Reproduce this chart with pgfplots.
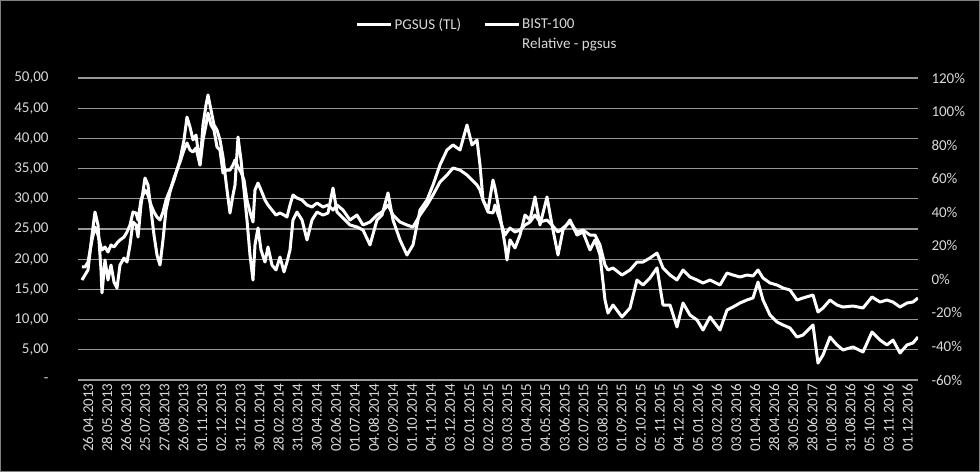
\documentclass[border=0pt]{standalone}
\usepackage{pgfplots}
\pgfplotsset{compat=1.18}
\usepackage{pgfplotstable}
\usepackage{fontspec}
\setmainfont{Carlito}
\definecolor{txt}{HTML}{D9D9D9}
\definecolor{grd}{HTML}{979797}
\definecolor{frame}{HTML}{808080}

% x: position along the date axis (one label every 19.06 units)
% p: PGSUS (TL), left axis; r: relative - pgsus (%), right axis
\pgfplotstableread{
x p r
0 18.71 -0.4
3 18.71 2.6
6 19.53 5.6
10 23.18 26.4
13 25.33 40.1
16 24.00 32.4
19 22.02 5.6
20 21.52 -8.1
23 22.02 11.5
26 21.19 -0.4
29 22.35 8.5
32 22.02 -1.6
35 22.68 -5.2
38 23.18 8.5
42 23.67 12.7
45 24.50 10.3
48 25.66 20.5
51 27.81 34.2
54 27.65 32.4
56 26.49 25.2
59 29.80 44.3
63 31.45 60.4
66 30.63 56.2
69 28.97 41.3
72 27.81 26.4
75 26.98 14.5
78 26.49 8.5
81 27.81 23.5
84 29.80 41.3
88 31.45 52.1
92 33.11 60.4
95 34.76 65.2
98 36.09 71.1
102 38.08 83.1
105 39.24 96.7
108 38.08 90.8
111 37.75 83.1
114 38.41 86.0
118 35.59 68.2
121 39.73 92.0
124 42.22 103.9
126 44.20 109.9
129 42.22 100.9
132 41.39 92.0
135 38.57 89.0
138 38.08 83.1
141 34.27 72.9
145 34.76 53.3
148 34.76 39.5
151 35.59 50.3
153 36.42 56.2
156 35.26 84.8
159 34.43 71.1
162 33.11 53.3
165 29.80 35.4
168 27.81 14.5
171 26.16 -0.4
173 31.45 20.5
176 32.61 30.6
179 31.45 17.5
183 29.80 10.3
186 28.97 19.3
190 28.14 8.5
194 27.31 5.6
198 27.65 13.3
202 27.31 4.4
205 26.98 10.3
208 28.97 17.5
211 30.63 35.4
215 30.13 40.1
220 29.80 35.4
225 28.97 23.5
230 28.64 35.4
235 29.30 40.1
241 28.64 38.3
246 28.97 39.5
251 28.14 54.4
255 28.97 40.1
261 28.14 36.6
268 26.49 32.4
275 27.31 31.2
281 25.66 29.4
288 26.16 20.5
295 27.31 35.4
300 27.81 38.3
306 28.97 51.5
311 27.31 35.4
318 26.16 23.5
325 25.66 14.5
331 25.33 20.5
338 27.31 41.3
345 28.97 47.3
351 30.63 56.2
358 32.78 68.2
365 33.94 77.1
371 35.10 80.1
378 34.76 77.1
385 33.94 92.0
390 33.11 80.1
395 32.28 83.1
398 31.45 68.2
401 29.80 47.3
406 27.81 41.3
411 27.65 59.2
413 28.97 54.4
418 26.49 38.3
423 24.00 20.5
425 24.50 11.5
428 25.16 23.5
433 24.50 18.7
438 24.83 26.4
443 25.66 38.3
448 26.16 35.4
453 27.31 49.1
458 26.16 32.4
465 26.49 49.1
470 25.66 32.4
476 24.50 14.5
481 25.16 29.4
488 26.16 35.4
495 24.50 26.4
501 24.83 28.2
508 24.00 17.5
513 24.00 23.5
518 22.35 14.5
523 19.04 -12.3
526 18.21 -20.1
531 18.54 -15.3
540 17.38 -22.4
548 18.21 -17.1
555 19.53 -0.4
561 19.53 -3.4
568 20.20 0.8
575 21.02 6.8
581 18.54 -15.3
588 17.38 -15.3
595 16.56 -28.4
601 18.21 -14.1
608 17.05 -21.3
615 16.56 -24.2
621 16.06 -30.2
628 16.56 -22.4
638 15.73 -30.2
645 17.71 -18.3
651 17.38 -16.5
658 17.05 -14.1
665 17.38 -12.3
671 17.22 -11.1
676 18.21 -1.6
681 16.89 -12.3
688 16.06 -21.3
695 15.73 -25.4
701 15.23 -27.2
708 14.90 -29.0
715 13.24 -34.4
721 13.58 -33.2
731 14.07 -27.2
736 11.26 -49.9
741 11.92 -45.1
748 13.24 -34.4
755 12.41 -39.1
761 12.08 -42.1
771 12.25 -40.3
781 11.92 -43.3
790 13.74 -31.4
798 12.91 -36.2
805 13.24 -39.1
811 12.91 -36.2
818 12.08 -43.9
825 12.75 -39.1
831 12.91 -37.9
836 13.58 -34.4
}\pgsus

\pgfplotsset{
  base/.style={
    at={(0,0)}, anchor=south west,
    scale only axis, width=840bp, height=302bp,
    xmin=-4, xmax=836,
    axis line style={draw=none},
    major tick length=0pt,
    tick label style={font=\fontsize{15bp}{18bp}\selectfont, text=txt},
  },
}

\begin{document}
\begin{tikzpicture}
\fill[black] (-78bp,-92bp) rectangle (902bp,380bp);
\useasboundingbox (-78bp,-92bp) rectangle (902bp,380bp);
\draw[frame, line width=1.5bp] (-77.25bp,-91.25bp) rectangle (901.25bp,379.25bp);

\begin{axis}[base,
  ymin=0, ymax=50,
  ytick={0,5,...,50},
  yticklabels={{-\hspace{8bp}},{5,00},{10,00},{15,00},{20,00},{25,00},{30,00},{35,00},{40,00},{45,00},{50,00}},
  yticklabel style={xshift=-26bp},
  ymajorgrids, grid style={grd, line width=1.3bp},
  xtick={0,19.06,...,820},
  xticklabels={26.04.2013,28.05.2013,26.06.2013,25.07.2013,27.08.2013,26.09.2013,
    01.11.2013,02.12.2013,31.12.2013,30.01.2014,28.02.2014,31.03.2014,30.04.2014,
    02.06.2014,01.07.2014,04.08.2014,02.09.2014,01.10.2014,04.11.2014,03.12.2014,
    02.01.2015,02.02.2015,03.03.2015,01.04.2015,04.05.2015,03.06.2015,02.07.2015,
    03.08.2015,01.09.2015,02.10.2015,05.11.2015,04.12.2015,05.01.2016,03.02.2016,
    03.03.2016,01.04.2016,28.04.2016,30.05.2016,28.06.2017,01.08.2016,31.08.2016,
    05.10.2016,03.11.2016,01.12.2016},
  xticklabel style={rotate=90, anchor=east, yshift=-6bp},
  legend columns=2,
  legend cell align=left,
  legend image code/.code={\draw[#1] (0bp,0bp) -- (34bp,0bp);},
  legend style={at={(0.5,1.212)}, anchor=north, xshift=-11bp, draw=none, fill=none,
    text=txt, font=\fontsize{15bp}{18bp}\selectfont,
    row sep=3bp},
]
\addplot[white, line width=3bp, line join=round] table[x=x, y=p]{\pgsus};
\addlegendentry{PGSUS (TL)\rule{20bp}{0pt}}
\addlegendimage{white, line width=3bp}
\addlegendentry{BIST-100}
\addlegendimage{empty legend}
\addlegendentry{}
\addlegendimage{black, line width=3bp}
\addlegendentry{Relative - pgsus}
\end{axis}

\begin{axis}[base,
  ymin=-60, ymax=120,
  axis y line*=right, axis x line=none,
  ytick={-60,-40,...,120},
  yticklabels={-60\%,-40\%,-20\%,0\%,20\%,40\%,60\%,80\%,100\%,120\%},
  yticklabel style={xshift=10bp},
]
\addplot[white, line width=3bp, line join=round] table[x=x, y=r]{\pgsus};
\end{axis}
\end{tikzpicture}
\end{document}
